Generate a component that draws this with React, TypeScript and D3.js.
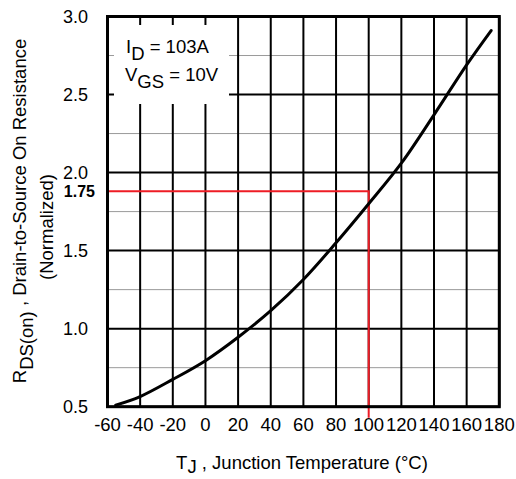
import * as d3 from "d3";

// curve
const tempC = [-55, -40, -20, 0, 20, 40, 60, 80, 100, 120, 140, 160, 175];
const rdsNorm = [0.51, 0.565, 0.675, 0.795, 0.945, 1.115, 1.315, 1.55, 1.8, 2.06, 2.37, 2.69, 2.91];

const xTicks = [-60, -40, -20, 0, 20, 40, 60, 80, 100, 120, 140, 160, 180];
const yMajor = [0.5, 1.0, 1.5, 2.0, 2.5, 3.0];
const yMinor = [0.75, 1.25, 1.75, 2.25, 2.75];
const yLabels = ["0.5", "1.0", "1.5", "2.0", "2.5", "3.0"];

// red marker: 100 °C, labelled 1.75
const markerT = 100;
const markerLevel = 1.88;
const markerLabel = "1.75";

const W = 516;
const H = 479;
const FONT = "'Liberation Sans', Arial, Helvetica, sans-serif";

export default function App() {
  const x = d3.scaleLinear().domain([-60, 180]).range([107.5, 499.3]);
  const y = d3.scaleLinear().domain([0.5, 3.0]).range([406.7, 16.5]);

  const pts = tempC.map((t, i) => [t, rdsNorm[i]] as [number, number]);
  const line = d3
    .line<[number, number]>()
    .x((d) => x(d[0]))
    .y((d) => y(d[1]))
    .curve(d3.curveCatmullRom.alpha(0.5));

  const [x0, x1] = x.range();
  const [y0, y1] = y.range();

  return (
    <div style={{ position: "absolute", left: 0, top: 0 }}>
      <svg width={W} height={H} style={{ display: "block", background: "#fff" }}>
        {/* minor horizontal grid */}
        {yMinor.map((v) => (
          <line key={"m" + v} x1={x0} x2={x1} y1={y(v)} y2={y(v)} stroke="#9a9a9a" strokeWidth={1} />
        ))}
        {/* major grid */}
        {yMajor.map((v) => (
          <line key={"h" + v} x1={x0} x2={x1} y1={y(v)} y2={y(v)} stroke="#000" strokeWidth={2} />
        ))}
        {xTicks.map((t) => (
          <line key={"v" + t} x1={x(t)} x2={x(t)} y1={y0} y2={y1} stroke="#000" strokeWidth={2} />
        ))}

        {/* legend box blanks out the grid */}
        <rect x={114} y={25} width={115} height={79} fill="#fff" />
        <text x={126} y={53} fontFamily={FONT} fontSize={18.5} fill="#000">
          I<tspan dy={7}>D</tspan>
          <tspan dy={-7}> = 103A</tspan>
        </text>
        <text x={125} y={81} fontFamily={FONT} fontSize={18.5} fill="#000">
          V<tspan dy={7}>GS</tspan>
          <tspan dy={-7}> = 10V</tspan>
        </text>

        {/* red marker lines */}
        <polyline
          points={`${x0},${y(markerLevel)} ${x(markerT)},${y(markerLevel)} ${x(markerT)},${y0 + 11}`}
          fill="none"
          stroke="#ee1c25"
          strokeWidth={2}
        />

        {/* curve */}
        <path d={line(pts) ?? ""} fill="none" stroke="#000" strokeWidth={3} strokeLinecap="round" />

        {/* frame */}
        <rect x={x0} y={y1} width={x1 - x0} height={y0 - y1} fill="none" stroke="#000" strokeWidth={3} />

        {/* y tick labels */}
        {yMajor.map((v, i) => (
          <text
            key={"yl" + v}
            x={88}
            y={y(v)}
            dy="0.36em"
            textAnchor="end"
            fontFamily={FONT}
            fontSize={18}
            fill="#000"
          >
            {yLabels[i]}
          </text>
        ))}
        <text
          x={95}
          y={y(markerLevel)}
          dy="0.36em"
          textAnchor="end"
          fontFamily={FONT}
          fontSize={16}
          fontWeight="bold"
          fill="#000"
        >
          {markerLabel}
        </text>

        {/* x tick labels */}
        {xTicks.map((t) => (
          <text key={"xl" + t} x={x(t)} y={431} textAnchor="middle" fontFamily={FONT} fontSize={18.5} fill="#000">
            {t}
          </text>
        ))}

        {/* axis titles */}
        <text x={302} y={469} textAnchor="middle" fontFamily={FONT} fontSize={18.5} fill="#000">
          T<tspan dy={4}>J</tspan>
          <tspan dy={-4}> , Junction Temperature (°C)</tspan>
        </text>
        <text
          transform="translate(26,211) rotate(-90)"
          textAnchor="middle"
          fontFamily={FONT}
          fontSize={18.5}
          fill="#000"
        >
          R<tspan dy={7}>DS(on)</tspan>
          <tspan dy={-7}> , Drain-to-Source On Resistance</tspan>
        </text>
        <text
          transform="translate(53,227) rotate(-90)"
          textAnchor="middle"
          fontFamily={FONT}
          fontSize={18.5}
          fill="#000"
        >
          (Normalized)
        </text>
      </svg>
    </div>
  );
}
